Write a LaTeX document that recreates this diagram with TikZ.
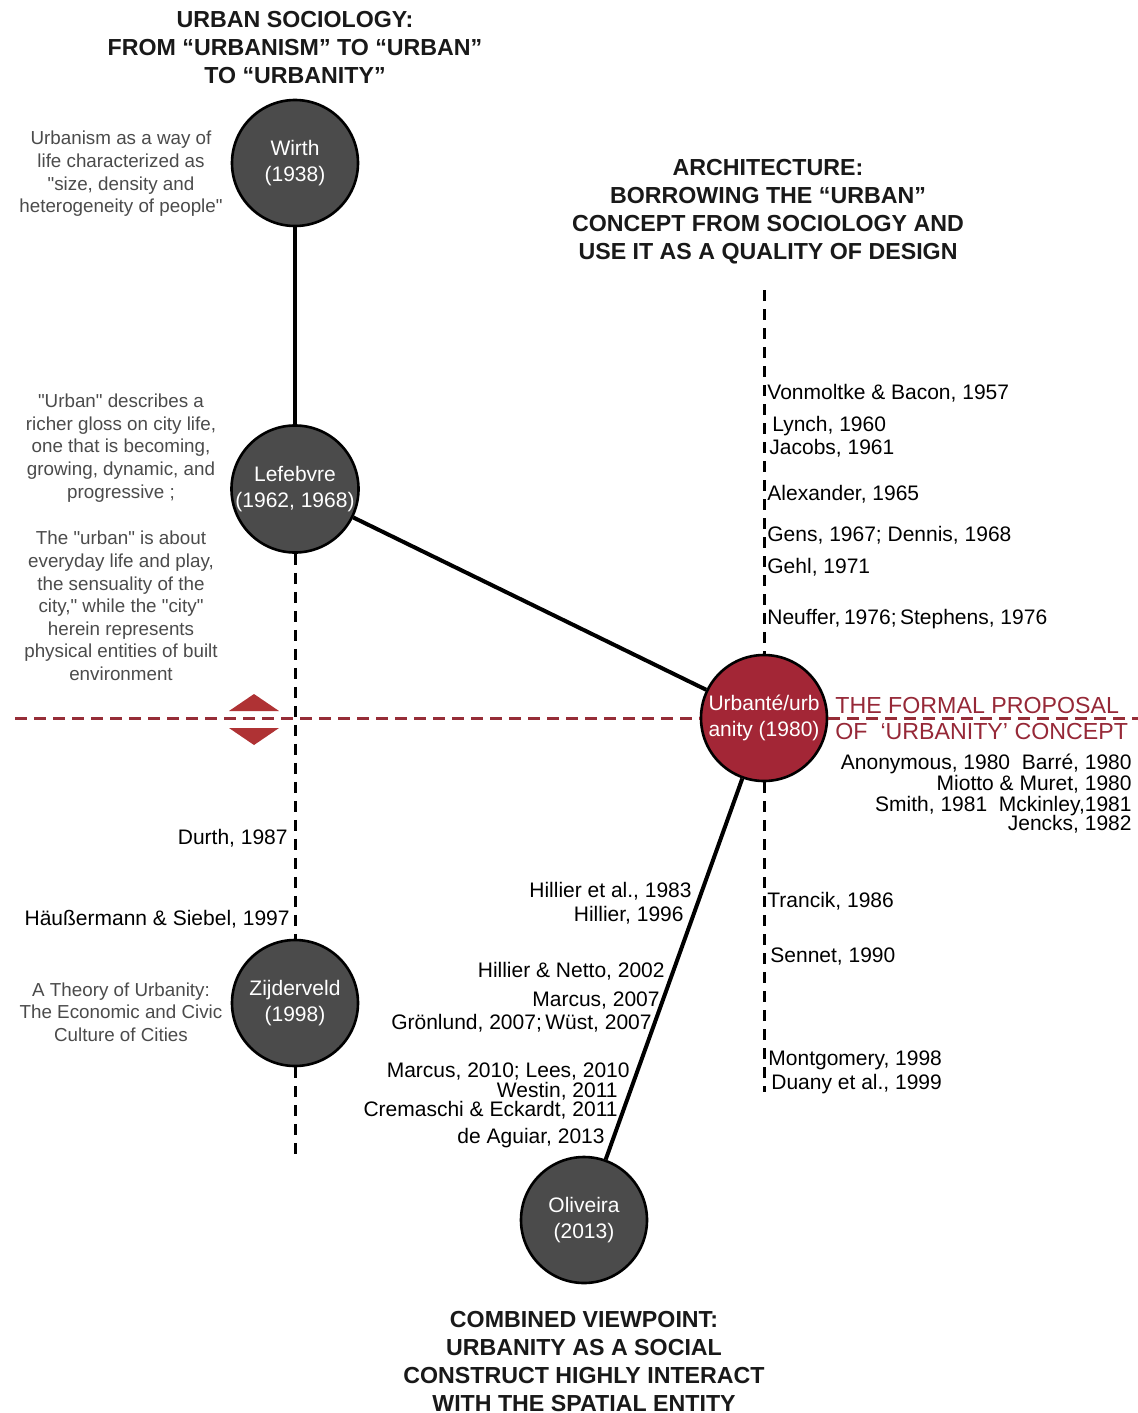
\documentclass[tikz,border=0pt]{standalone}
\usepackage{fontspec}
\setmainfont{Liberation Sans}
\definecolor{nodegray}{RGB}{75,75,75}
\definecolor{urbred}{RGB}{163,38,54}
\definecolor{txtred}{RGB}{150,40,55}
\definecolor{dashred}{RGB}{150,45,55}
\definecolor{graytxt}{RGB}{75,75,75}
\definecolor{trired}{RGB}{175,50,52}
\newcommand{\qd}{\textquotedbl}
\begin{document}
\begin{tikzpicture}[x=0.5pt,y=-0.5pt,
 pcirc/.style={circle,draw=black,line width=1.3pt,fill=nodegray,minimum size=63pt,inner sep=0pt,align=center,text=white,font=\fontsize{10.5}{12.6}\selectfont},
 ttl/.style={align=center,font=\fontsize{11.6}{14}\selectfont\bfseries,text=black!90},
 note/.style={align=center,font=\fontsize{9.4}{11.3}\selectfont,text=graytxt},
 lab/.style={inner sep=0pt,text height=7.5pt,text depth=0pt,font=\fontsize{10.5}{12}\selectfont},
 redlab/.style={inner sep=0pt,text height=8.3pt,text depth=0pt,font=\fontsize{11.6}{14}\selectfont,text=txtred},
 solidlink/.style={line width=2pt,draw=black},
 dashlink/.style={line width=1.5pt,draw=black,dash pattern=on 5.5pt off 4pt},
 reddash/.style={line width=1.5pt,draw=dashred,dash pattern=on 6pt off 3.5pt}]

\fill[white] (0,0) rectangle (1138,1413);
\useasboundingbox (0,0) rectangle (1138,1413);

% titles
\node[ttl] (t1) at (295,48) {URBAN SOCIOLOGY:\\FROM “URBANISM” TO “URBAN”\\TO “URBANITY”};
\node[ttl] (t2) at (768,212) {ARCHITECTURE:\\BORROWING THE “URBAN”\\CONCEPT FROM SOCIOLOGY AND\\USE IT AS A QUALITY OF DESIGN};
\node[ttl] (t3) at (584,1361) {COMBINED VIEWPOINT:\\URBANITY AS A SOCIAL\\CONSTRUCT HIGHLY INTERACT\\WITH THE SPATIAL ENTITY};

% circles
\node[pcirc] (wirth) at (295,163) {Wirth\\(1938)};
\node[pcirc] (lef) at (295,489) {Lefebvre\\(1962, 1968)};
\node[pcirc,fill=urbred] (urb) at (764,718) {Urbanté/urb\\anity (1980)};
\node[pcirc] (zij) at (295,1003) {Zijderveld\\(1998)};
\node[pcirc] (oli) at (584,1220) {Oliveira\\(2013)};

% free ends
\coordinate (ltop) at (764,290);
\coordinate (lbotR) at (764,1092);
\coordinate (lbotL) at (295,1155);
\coordinate (rl) at (15,718);
\coordinate (rr) at (1138,718);

% connectors
\draw[solidlink] (wirth) -- (lef);
\draw[solidlink] (lef) -- (urb);
\draw[solidlink] (urb) -- (oli);
\draw[dashlink] (ltop) -- (urb);
\draw[dashlink] (urb) -- (lbotR);
\draw[dashlink] (lef) -- (zij);
\draw[dashlink] (zij) -- (lbotL);
\draw[reddash] (rl) -- (urb);
\draw[reddash] (urb) -- (rr);

% red triangles
\fill[trired] (229,711) -- (279,711) -- (254,694) -- cycle;
\fill[trired] (229,728) -- (279,728) -- (254,745) -- cycle;

% red label
\node[redlab,anchor=west] (fp1) at (835,705) {THE FORMAL PROPOSAL};
\node[redlab,anchor=west] (fp2) at (835,731) {OF~ ‘URBANITY’ CONCEPT};

% gray notes
\node[note] (n1) at (121,174) {Urbanism as a way of\\life characterized as\\\qd size, density and\\heterogeneity of people\qd};
\node[note] (n2) at (121,448) {\qd Urban\qd{} describes a\\richer gloss on city life,\\one that is becoming,\\growing, dynamic, and\\progressive ;};
\node[note] (n3) at (121,606) {The \qd urban\qd{} is about\\everyday life and play,\\the sensuality of the\\city,\qd{} while the \qd city\qd\\herein represents\\physical entities of built\\environment};
\node[note] (n4) at (121,1012) {A Theory of Urbanity:\\The Economic and Civic\\Culture of Cities};

% right column
\node[lab,anchor=west] (r1) at (767,392) {Vonmoltke \& Bacon, 1957};
\node[lab,anchor=west] (r2) at (772,424) {Lynch, 1960};
\node[lab,anchor=west] (r3) at (769,447) {Jacobs, 1961};
\node[lab,anchor=west] (r4) at (767,493) {Alexander, 1965};
\node[lab,anchor=west] (r5) at (767,534) {Gens, 1967; Dennis, 1968};
\node[lab,anchor=west] (r6) at (767,566) {Gehl, 1971};
\node[lab,anchor=west] (r7) at (767,617) {Neuffer,\,1976;\,Stephens, 1976};
\node[lab,anchor=west] (r8) at (767,900) {Trancik, 1986};
\node[lab,anchor=west] (r9) at (770,955) {Sennet, 1990};
\node[lab,anchor=west] (r10) at (768,1058) {Montgomery, 1998};
\node[lab,anchor=west] (r11) at (771,1082) {Duany et al., 1999};

% right-aligned block
\node[lab,anchor=east] (a1) at (1132,762) {Anonymous, 1980~ Barré, 1980};
\node[lab,anchor=east] (a2) at (1132,783) {Miotto \& Muret, 1980};
\node[lab,anchor=east] (a3) at (1132,804) {Smith, 1981~ Mckinley,1981};
\node[lab,anchor=east] (a4) at (1132,823) {Jencks, 1982};

% left labels
\node[lab,anchor=east] (l1) at (288,837) {Durth, 1987};
\node[lab,anchor=east] (l2) at (290,918) {Häußermann \& Siebel, 1997};

% middle labels
\node[lab,anchor=east] (m1) at (692,890) {Hillier et al., 1983};
\node[lab,anchor=east] (m2) at (684,914) {Hillier, 1996};
\node[lab,anchor=east] (m3) at (665,970) {Hillier \& Netto, 2002};
\node[lab,anchor=east] (m4) at (660,999) {Marcus, 2007};
\node[lab,anchor=east] (m5) at (652,1022) {Grönlund, 2007;\,Wüst, 2007};
\node[lab,anchor=east] (m6) at (630,1070) {Marcus, 2010; Lees, 2010};
\node[lab,anchor=east] (m7) at (618,1090) {Westin, 2011};
\node[lab,anchor=east] (m8) at (618,1109) {Cremaschi \& Eckardt, 2011};
\node[lab,anchor=east] (m9) at (605,1136) {de Aguiar, 2013};
\end{tikzpicture}
\end{document}
